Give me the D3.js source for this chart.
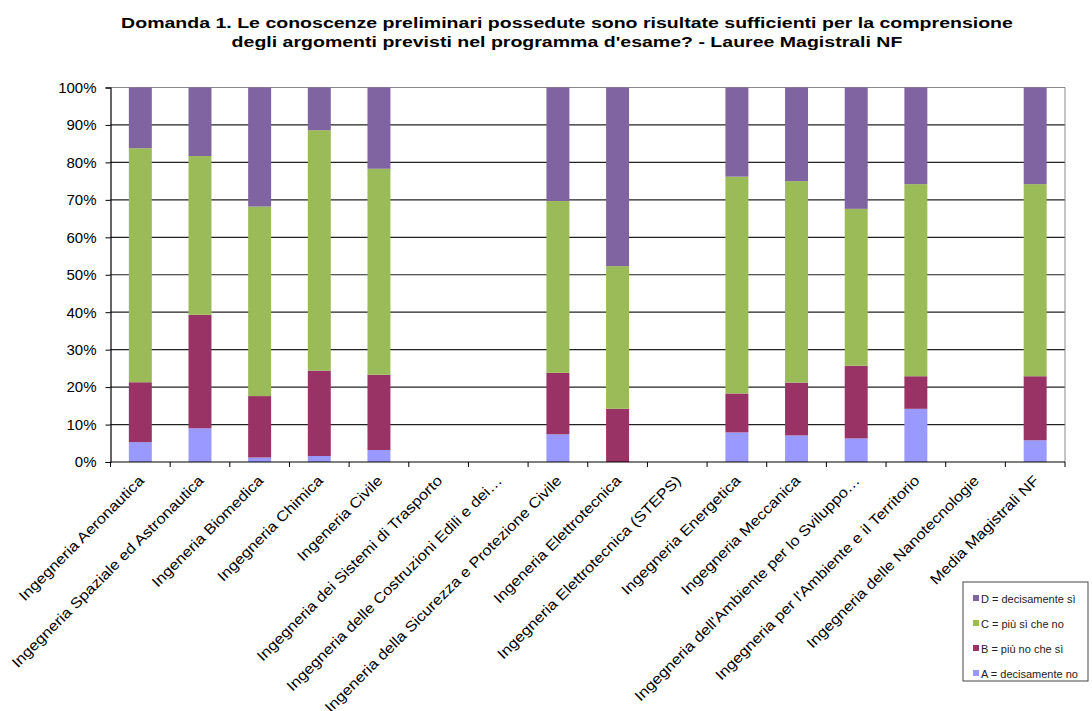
<!DOCTYPE html>
<html><head><meta charset="utf-8">
<script src="https://cdn.jsdelivr.net/npm/d3@7"></script>
<style>body{margin:0;background:#fff}svg{display:block}text{font-family:"Liberation Sans",Arial,sans-serif}</style>
</head><body><svg id="c" width="1092" height="711"></svg>
<script>
const categories = ["Ingegneria Aeronautica","Ingegneria Spaziale ed Astronautica","Ingeneria Biomedica","Ingegneria Chimica","Ingeneria Civile","Ingegneria dei Sistemi di Trasporto","Ingegneria delle Costruzioni Edili e dei…","Ingeneria della Sicurezza e Protezione Civile","Ingeneria Elettrotecnica","Ingegneria Elettrotecnica (STEPS)","Ingegneria Energetica","Ingegneria Meccanica","Ingegneria dell'Ambiente per lo Sviluppo…","Ingegneria per l'Ambiente e il Territorio","Ingegneria delle Nanotecnologie","Media Magistrali NF"];
const seriesA = [5.3, 9.0, 1.2, 1.6, 3.2, 0, 0, 7.4, 0, 0, 7.9, 7.1, 6.3, 14.2, 0, 5.8];
const seriesB = [16.0, 30.3, 16.4, 22.8, 20.1, 0, 0, 16.4, 14.2, 0, 10.4, 14.1, 19.4, 8.7, 0, 17.1];
const seriesC = [62.5, 42.4, 50.6, 64.2, 55.0, 0, 0, 45.9, 38.1, 0, 57.9, 53.8, 41.9, 51.3, 0, 51.3];
const seriesD = [16.2, 18.3, 31.8, 11.4, 21.7, 0, 0, 30.3, 47.7, 0, 23.8, 25.0, 32.4, 25.8, 0, 25.8];
const seriesNames = ["A = decisamente no","B = più no che sì","C = più sì che no","D = decisamente sì"];
const yTicks = [0,10,20,30,40,50,60,70,80,90,100];
const titleLines = ["Domanda 1. Le conoscenze preliminari  possedute sono risultate sufficienti per la comprensione","degli argomenti previsti nel programma d'esame? -  Lauree Magistrali NF"];
const colors = ["#9999FF","#993366","#9BBB59","#8064A2"];

const svg = d3.select("#c");
const L=110.5, R=1065, T=87.5, B=462;
const x = d3.scaleBand().domain(categories).range([L,R]).paddingInner(0.615).paddingOuter(0.3075);
const y = d3.scaleLinear().domain([0,100]).range([B,T]);

// title
svg.append("g").selectAll("text").data(titleLines).join("text")
  .attr("transform",(d,i)=>`translate(567,${28+i*19}) scale(1.26,1)`).attr("text-anchor","middle")
  .attr("font-size",15.5).attr("font-weight","bold").attr("fill","#000").text(d=>d);

// gridlines
svg.append("g").selectAll("line").data(yTicks.filter(t=>t>0)).join("line")
  .attr("x1",L).attr("x2",R).attr("y1",d=>y(d)).attr("y2",d=>y(d))
  .attr("stroke",(d)=>d===100?"#888":"#222").attr("stroke-width",1.2);
svg.append("line").attr("x1",R).attr("x2",R).attr("y1",T).attr("y2",B).attr("stroke","#888");

// stacked bars
const rows = categories.map((c,i)=>({cat:c,A:seriesA[i],B:seriesB[i],C:seriesC[i],D:seriesD[i]}));
const stack = d3.stack().keys(["A","B","C","D"])(rows);
svg.append("g").selectAll("g").data(stack).join("g").attr("fill",(d,i)=>colors[i])
  .selectAll("rect").data(d=>d).join("rect")
  .attr("x",d=>x(d.data.cat)).attr("width",x.bandwidth())
  .attr("y",d=>y(d[1])).attr("height",d=>Math.max(0,y(d[0])-y(d[1])));

// y axis
const ya = svg.append("g").attr("transform",`translate(${L},0)`)
  .call(d3.axisLeft(y).tickValues(yTicks).tickFormat(d=>d+"%").tickSize(5).tickPadding(9));
ya.select(".domain").attr("stroke","#000").attr("stroke-width",1.2);
ya.selectAll(".tick line").attr("stroke","#000");
ya.selectAll("text").attr("font-size",15).attr("fill","#000").attr("font-family","Liberation Sans, Arial, sans-serif");

// x axis
const step = x.step();
const xa = svg.append("g").attr("transform",`translate(0,${B})`);
xa.append("line").attr("x1",L).attr("x2",R).attr("stroke","#000").attr("stroke-width",1.2);
xa.selectAll("line.tk").data(d3.range(categories.length+1)).join("line").attr("class","tk")
  .attr("x1",i=>L+i*step).attr("x2",i=>L+i*step).attr("y1",0).attr("y2",5).attr("stroke","#000");
xa.selectAll("text").data(categories).join("text")
  .attr("transform",d=>`translate(${x(d)+x.bandwidth()/2+1},16) rotate(-45) scale(1.14,1)`)
  .attr("text-anchor","end").attr("dy","0.35em").attr("font-size",14.5).attr("fill","#000").text(d=>d);

// legend
const lg = svg.append("g").attr("transform","translate(963,582)");
lg.append("rect").attr("width",125).attr("height",99).attr("fill","#fff").attr("stroke","#444");
const order=[3,2,1,0];
lg.selectAll("g").data(order).join("g").attr("transform",(d,i)=>`translate(10,${17+i*25})`)
  .each(function(d){
    const g=d3.select(this);
    g.append("rect").attr("x",0).attr("y",-4).attr("width",6).attr("height",6).attr("fill",colors[d]);
    g.append("text").attr("x",8).attr("dy","0.32em").attr("font-size",11).attr("fill","#222").text(seriesNames[d]);
  });
</script></body></html>
